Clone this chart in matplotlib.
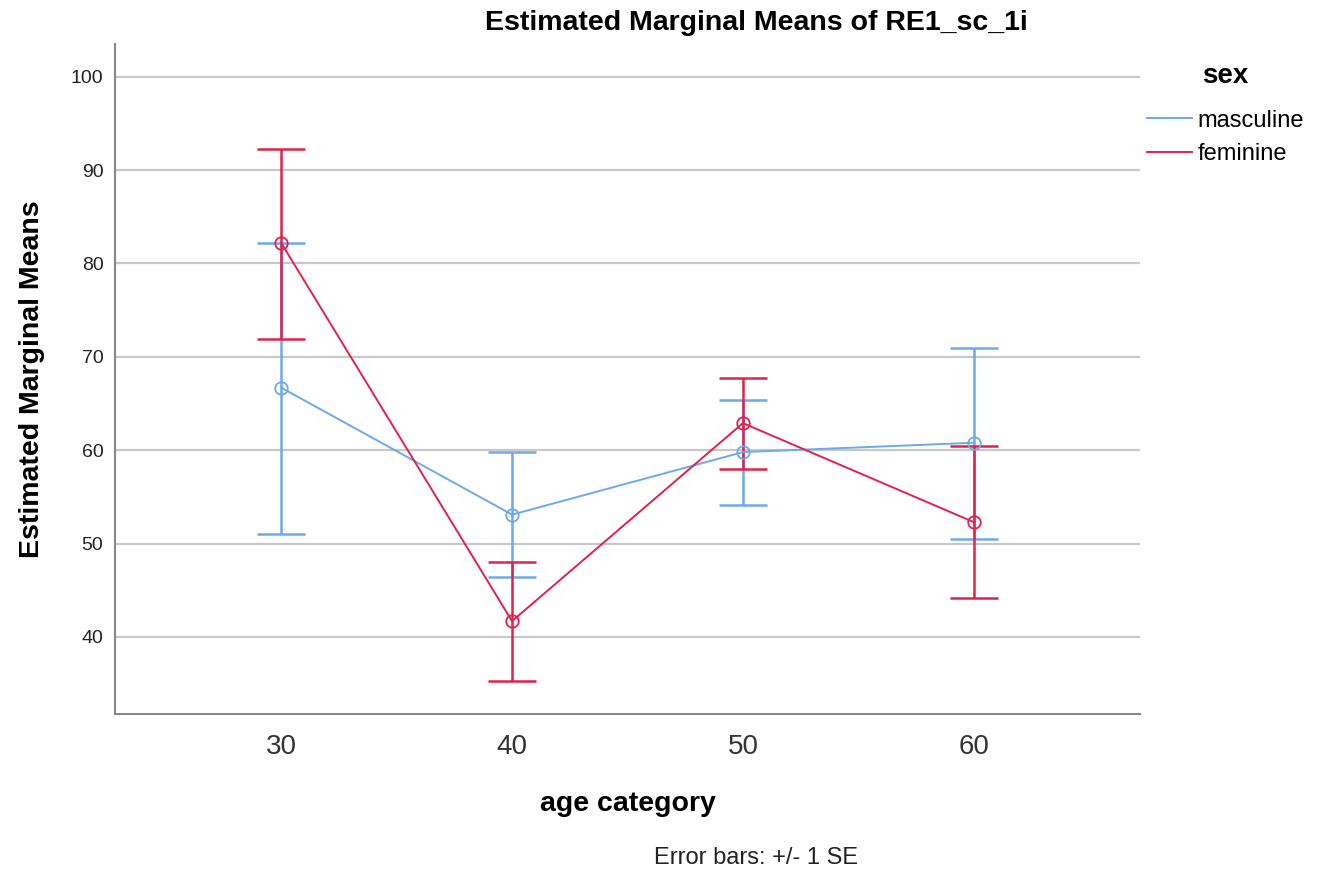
import matplotlib
matplotlib.use("Agg")
import matplotlib.pyplot as plt
from matplotlib.lines import Line2D

plt.rcParams['font.family'] = ['Liberation Sans', 'DejaVu Sans']

categories = ["30", "40", "50", "60"]
masc_mean = [66.7, 53.1, 59.8, 60.8]
masc_upper = [82.2, 59.8, 65.4, 70.9]
masc_lower = [51.0, 46.4, 54.1, 50.5]
fem_mean = [82.2, 41.7, 62.9, 52.3]
fem_upper = [92.3, 48.0, 67.75, 60.4]
fem_lower = [71.9, 35.3, 58.0, 44.2]
yticks = [40, 50, 60, 70, 80, 90, 100]

blue = "#6fa8ec"
red = "#e0224d"

fig = plt.figure(figsize=(13.29, 8.73), dpi=100)
ax = fig.add_axes([0.0865, 0.1821, 0.7713, 0.7675])

x = list(range(len(categories)))

for mean, up, lo, col in [(masc_mean, masc_upper, masc_lower, blue),
                          (fem_mean, fem_upper, fem_lower, red)]:
    yerr = [[m - l for m, l in zip(mean, lo)], [u - m for m, u in zip(mean, up)]]
    ax.errorbar(x, mean, yerr=yerr, fmt='none', ecolor=col, elinewidth=1.8,
                capsize=17, capthick=1.8, zorder=3)
    ax.plot(x, mean, color=col, lw=1.4, marker='o', markersize=9,
            markerfacecolor='none', markeredgecolor=col, markeredgewidth=1.3, zorder=4)

ax.set_xlim(-0.72, 3.72)
ax.set_ylim(31.75, 103.5)
ax.set_yticks(yticks)
ax.set_yticklabels([str(t) for t in yticks], fontsize=14, color='#222222')
ax.set_xticks(x)
ax.set_xticklabels(categories, fontsize=20, color='#333333')
ax.tick_params(axis='y', length=0, pad=8.3)
ax.tick_params(axis='x', length=0, pad=14.5)
ax.grid(axis='y', color='#c8c8c8', lw=1.6, zorder=0)
ax.set_axisbelow(True)
for s in ['top', 'right']:
    ax.spines[s].set_visible(False)
for s in ['left', 'bottom']:
    ax.spines[s].set_color('#888888')
    ax.spines[s].set_linewidth(1.5)

ax.set_ylabel("Estimated Marginal Means", fontsize=20.5, fontweight='bold', va='center')
ax.yaxis.set_label_coords(-0.081, 0.5)
ax.set_xlabel("age category", fontsize=20.5, fontweight='bold', va='center')
ax.xaxis.set_label_coords(0.5, -0.135)
fig.text(0.5695, 1 - 23 / 873, "Estimated Marginal Means of RE1_sc_1i", ha='center', va='center',
         fontsize=20.5, fontweight='bold')
fig.text(756 / 1329, 1 - 858 / 873, "Error bars: +/- 1 SE", ha='center', va='center',
         fontsize=17, color='#222222')

handles = [Line2D([0], [0], color=blue, lw=1.4), Line2D([0], [0], color=red, lw=1.4)]
leg = fig.legend(handles, ["masculine", "feminine"], loc='upper left',
                 bbox_to_anchor=(1142 / 1329, 1 - 58 / 873), frameon=False, fontsize=17,
                 handlelength=1.9, handletextpad=0.25, labelspacing=0.48,
                 borderpad=0.2, borderaxespad=0,
                 title="sex", title_fontproperties={'weight': 'bold', 'size': 20})
leg._legend_box.align = "center"
leg._legend_box.sep = 15

fig.savefig("out.png", dpi=100)
